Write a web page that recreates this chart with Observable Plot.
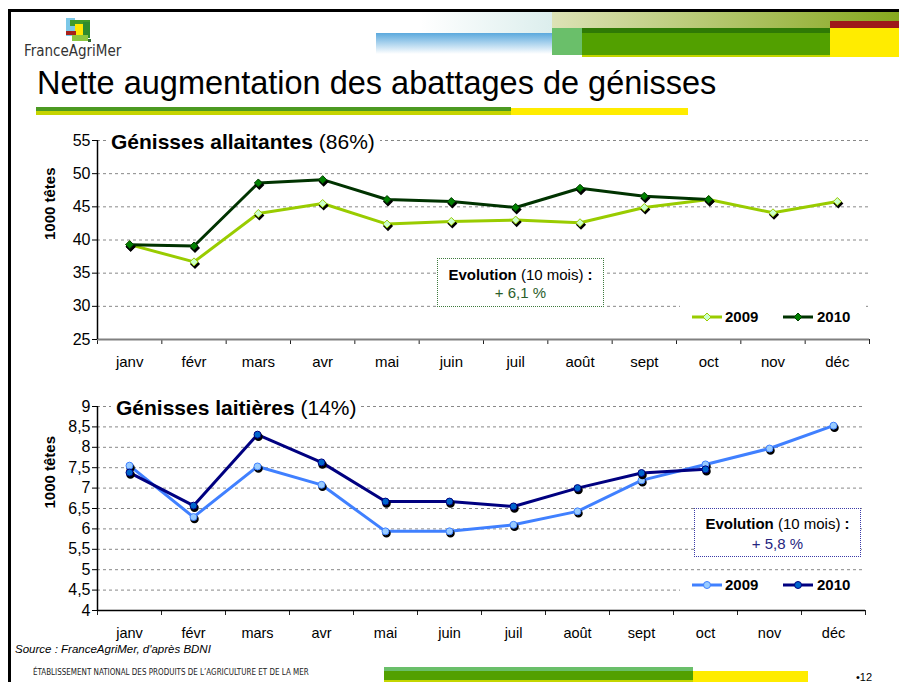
<!DOCTYPE html>
<html><head><meta charset="utf-8">
<script src="https://cdn.jsdelivr.net/npm/d3@7"></script>
<script src="https://cdn.jsdelivr.net/npm/@observablehq/plot@0.6"></script>
<style>
body{margin:0;background:#fff;}
#page{position:relative;width:899px;height:682px;overflow:hidden;background:#fff;font-family:'Liberation Sans',Arial,sans-serif;color:#000;}
.abs{position:absolute;}
.ctitle{position:absolute;background:#fff;padding:0 5px;font-size:21px;line-height:23px;white-space:nowrap;}
.evo{position:absolute;box-sizing:border-box;width:167px;height:49px;background:#fff;text-align:center;font-size:15px;white-space:nowrap;}
.leg{position:absolute;left:680px;width:186px;height:28px;background:#fff;}
.leg svg{position:absolute;top:8px;}
.leg span{position:absolute;top:5px;font-weight:bold;font-size:15px;line-height:18px;}
</style></head><body>
<div id="page">
  <!-- frame -->
  <div class="abs" style="left:8px;top:9px;width:891px;height:3px;background:#000"></div>
  <div class="abs" style="left:8px;top:9px;width:2.5px;height:673px;background:#000"></div>
  <!-- header decoration -->
  <div class="abs" style="left:420px;top:12px;width:132px;height:21px;background:linear-gradient(to right,rgba(220,238,238,0),#dceeed)"></div>
  <div class="abs" style="left:376px;top:33px;width:176px;height:21px;background:linear-gradient(to bottom,#5ba9dd,#ffffff)"></div>
  <div class="abs" style="left:552px;top:12px;width:347px;height:16px;background:linear-gradient(to right,#dde2b6,#86a81e)"></div>
  <div class="abs" style="left:552px;top:28px;width:30px;height:27px;background:#6abf6a"></div>
  <div class="abs" style="left:582px;top:28px;width:248px;height:29px;background:#c4d600"></div>
  <div class="abs" style="left:582px;top:28px;width:248px;height:27px;background:#52a000"></div>
  <div class="abs" style="left:582px;top:28px;width:248px;height:5px;background:#2f7a05"></div>
  <div class="abs" style="left:830px;top:21px;width:69px;height:7px;background:#9e1a1a"></div>
  <div class="abs" style="left:830px;top:28px;width:69px;height:29px;background:#ffec00"></div>
  <!-- logo -->
  <div class="abs" style="left:66px;top:18px;width:9px;height:18px;background:#7cc8e8"></div>
  <div class="abs" style="left:70px;top:20px;width:20px;height:6px;background:#3f9a2a"></div>
  <div class="abs" style="left:83px;top:22px;width:7px;height:16px;background:#2e8b2e"></div>
  <div class="abs" style="left:75px;top:24px;width:8px;height:12px;background:#ffe600"></div>
  <div class="abs" style="left:66px;top:31px;width:10px;height:4px;background:#a8201a"></div>
  <div class="abs" style="left:72px;top:35px;width:16px;height:6px;background:#8cc63f"></div>
  <div class="abs" style="left:88px;top:39px;width:3px;height:3px;background:#2e6b2e"></div>
  <div class="abs" style="left:24px;top:43px;font-family:'Liberation Sans Narrow','DejaVu Sans Condensed',sans-serif;font-size:15px;line-height:17px;color:#333;white-space:nowrap">FranceAgriMer</div>
  <!-- title -->
  <div class="abs" style="left:37px;top:65px;font-size:32.5px;line-height:36px;white-space:nowrap">Nette augmentation des abattages de génisses</div>
  <div class="abs" style="left:36px;top:107px;width:475px;height:4px;background:#4c9a22"></div>
  <div class="abs" style="left:36px;top:111px;width:475px;height:4px;background:#c6d400"></div>
  <div class="abs" style="left:511px;top:108px;width:177px;height:7px;background:#ffec00"></div>

  <div id="c1" class="abs" style="left:0;top:125px"></div>
  <div id="c2" class="abs" style="left:0;top:395px"></div>

  <!-- chart overlays -->
  <div class="ctitle" style="left:106px;top:130px"><b>Génisses allaitantes</b> (86%)</div>
  <div class="ctitle" style="left:111px;top:396px"><b>Génisses laitières</b> (14%)</div>

  <div class="evo" style="left:437px;top:258px;border:1px dotted #3d7a3d;padding-top:7px;line-height:18px"><b>Evolution</b> (10 mois) <b>:</b><br><span style="color:#2b5e2b">+ 6,1 %</span></div>
  <div class="evo" style="left:694px;top:508px;border:1px dotted #3a3aa8;padding-top:5px;line-height:20px"><b>Evolution</b> (10 mois) <b>:</b><br><span style="color:#262680">+ 5,8 %</span></div>

  <div class="leg" style="top:303px">
    <svg style="left:12px" width="32" height="12"><line x1="0" x2="30" y1="6" y2="6" stroke="#99cc00" stroke-width="3"/><path d="M15,2L19,6L15,10L11,6Z" fill="#ccffcc" stroke="#99cc00"/></svg>
    <span style="left:45px">2009</span>
    <svg style="left:103px" width="32" height="12"><line x1="0" x2="30" y1="6" y2="6" stroke="#003300" stroke-width="3"/><path d="M15,2L19,6L15,10L11,6Z" fill="#008000" stroke="#004000"/></svg>
    <span style="left:137px">2010</span>
  </div>
  <div class="leg" style="top:571px">
    <svg style="left:12px" width="32" height="12"><line x1="0" x2="30" y1="6" y2="6" stroke="#4080ff" stroke-width="3"/><circle cx="15" cy="6" r="3.5" fill="#99ccff" stroke="#4080ff"/></svg>
    <span style="left:45px">2009</span>
    <svg style="left:103px" width="32" height="12"><line x1="0" x2="30" y1="6" y2="6" stroke="#000080" stroke-width="3"/><circle cx="15" cy="6" r="3.5" fill="#0066cc" stroke="#000080"/></svg>
    <span style="left:137px">2010</span>
  </div>

  <!-- footer -->
  <div class="abs" style="left:15px;top:643px;font-size:11.5px;font-style:italic;line-height:13px;white-space:nowrap">Source : FranceAgriMer, d'après BDNI</div>
  <div class="abs" style="left:33px;top:667px;font-family:'Liberation Sans Narrow','DejaVu Sans Condensed',sans-serif;font-size:9px;line-height:11px;color:#222;white-space:nowrap;transform:scaleX(0.885);transform-origin:left center">ÉTABLISSEMENT NATIONAL DES PRODUITS DE L’AGRICULTURE ET DE LA MER</div>
  <div class="abs" style="left:384px;top:667px;width:309px;height:4px;background:#6abf6a"></div>
  <div class="abs" style="left:384px;top:671px;width:309px;height:11px;background:#52a000"></div>
  <div class="abs" style="left:384px;top:680px;width:309px;height:2px;background:#c4d600"></div>
  <div class="abs" style="left:693px;top:671px;width:115px;height:11px;background:#ffec00"></div>
  <div class="abs" style="left:856px;top:671px;font-size:11px;line-height:12px;white-space:nowrap">•12</div>
</div>
<script>
const months = ["janv","févr","mars","avr","mai","juin","juil","août","sept","oct","nov","déc"];
const allait2009 = [39.3, 36.7, 44.0, 45.5, 42.4, 42.8, 43.0, 42.6, 44.9, 46.1, 44.1, 45.8];
const allait2010 = [39.3, 39.1, 48.6, 49.1, 46.1, 45.8, 44.9, 47.8, 46.6, 46.1];
const lait2009 = [7.55, 6.29, 7.53, 7.08, 5.94, 5.94, 6.10, 6.43, 7.19, 7.58, 7.97, 8.53];
const lait2010 = [7.38, 6.57, 8.31, 7.63, 6.67, 6.67, 6.55, 7.00, 7.37, 7.46];
const allaitTicks = [25, 30, 35, 40, 45, 50, 55];
const laitTicks = [4, 4.5, 5, 5.5, 6, 6.5, 7, 7.5, 8, 8.5, 9];
const yLabel = "1000 têtes";

const FONT = "'Liberation Sans', Arial, sans-serif";
const diamond = {draw(ctx, size) {
  const h = Math.sqrt(size / Math.PI);
  ctx.moveTo(0, -h); ctx.lineTo(h, 0); ctx.lineTo(0, h); ctx.lineTo(-h, 0); ctx.closePath();
}};
const fmt = d => String(d).replace(".", ",");
const xi = (d, i) => i + 0.5;

function chart({s1, s2, ticks, marginTop, marginBottom, marginRight, axisColor, axisWidth, labelPad, labelSize, symbol, r, c1, c2}) {
  const [lo, hi] = d3.extent(ticks);
  const series = (data, c) => [
    Plot.line(data, {x: xi, y: d => d, stroke: c.line, strokeWidth: 3}),
    Plot.dot(data, {x: xi, y: d => d, symbol, r, fill: "#000", stroke: "#000", dx: 1, dy: 2}),
    Plot.dot(data, {x: xi, y: d => d, symbol, r, fill: c.fill, stroke: c.stroke, strokeWidth: 1})
  ];
  return Plot.plot({
    width: 899, height: 250,
    marginLeft: 97, marginRight, marginTop, marginBottom,
    style: {fontFamily: FONT, fontSize: "15px", color: "#000", background: "transparent", overflow: "visible"},
    x: {domain: [0, 12]},
    y: {domain: [lo, hi]},
    marks: [
      Plot.gridY(ticks.slice(1), {stroke: "#888", strokeOpacity: 1, strokeDasharray: "3,3"}),
      Plot.axisY(ticks, {tickSize: 5, tickPadding: 2, tickFormat: fmt, fontSize: 16, label: null, stroke: "#000"}),
      Plot.axisX(d3.range(13), {tickSize: 5, tickFormat: () => "", label: null, stroke: "#222"}),
      Plot.axisX(months.map((m, i) => i + 0.5), {tickSize: 0, tickPadding: labelPad, tickFormat: d => months[Math.floor(d)], fontSize: labelSize, label: null}),
      Plot.ruleY([lo], {stroke: axisColor, strokeWidth: axisWidth}),
      Plot.ruleX([0], {stroke: "#000", strokeWidth: 1.5}),
      Plot.text([yLabel], {text: d => d, frameAnchor: "left", dx: -47, rotate: -90, fontWeight: "bold", fontSize: 15}),
      ...series(s1, c1),
      ...series(s2, c2)
    ]
  });
}

document.getElementById("c1").append(chart({
  s1: allait2009, s2: allait2010, ticks: allaitTicks,
  marginTop: 15, marginBottom: 36, marginRight: 30,
  axisColor: "#808080", axisWidth: 2, labelPad: 17, labelSize: 15,
  symbol: diamond, r: 4,
  c1: {line: "#99cc00", fill: "#ccffcc", stroke: "#99cc00"},
  c2: {line: "#003300", fill: "#008000", stroke: "#004000"}
}));
document.getElementById("c2").append(chart({
  s1: lait2009, s2: lait2010, ticks: laitTicks,
  marginTop: 11, marginBottom: 35, marginRight: 34,
  axisColor: "#000", axisWidth: 1.5, labelPad: 17, labelSize: 14.5,
  symbol: "circle", r: 3.5,
  c1: {line: "#4080ff", fill: "#99ccff", stroke: "#4080ff"},
  c2: {line: "#000080", fill: "#0066cc", stroke: "#000080"}
}));
</script>
</body></html>
